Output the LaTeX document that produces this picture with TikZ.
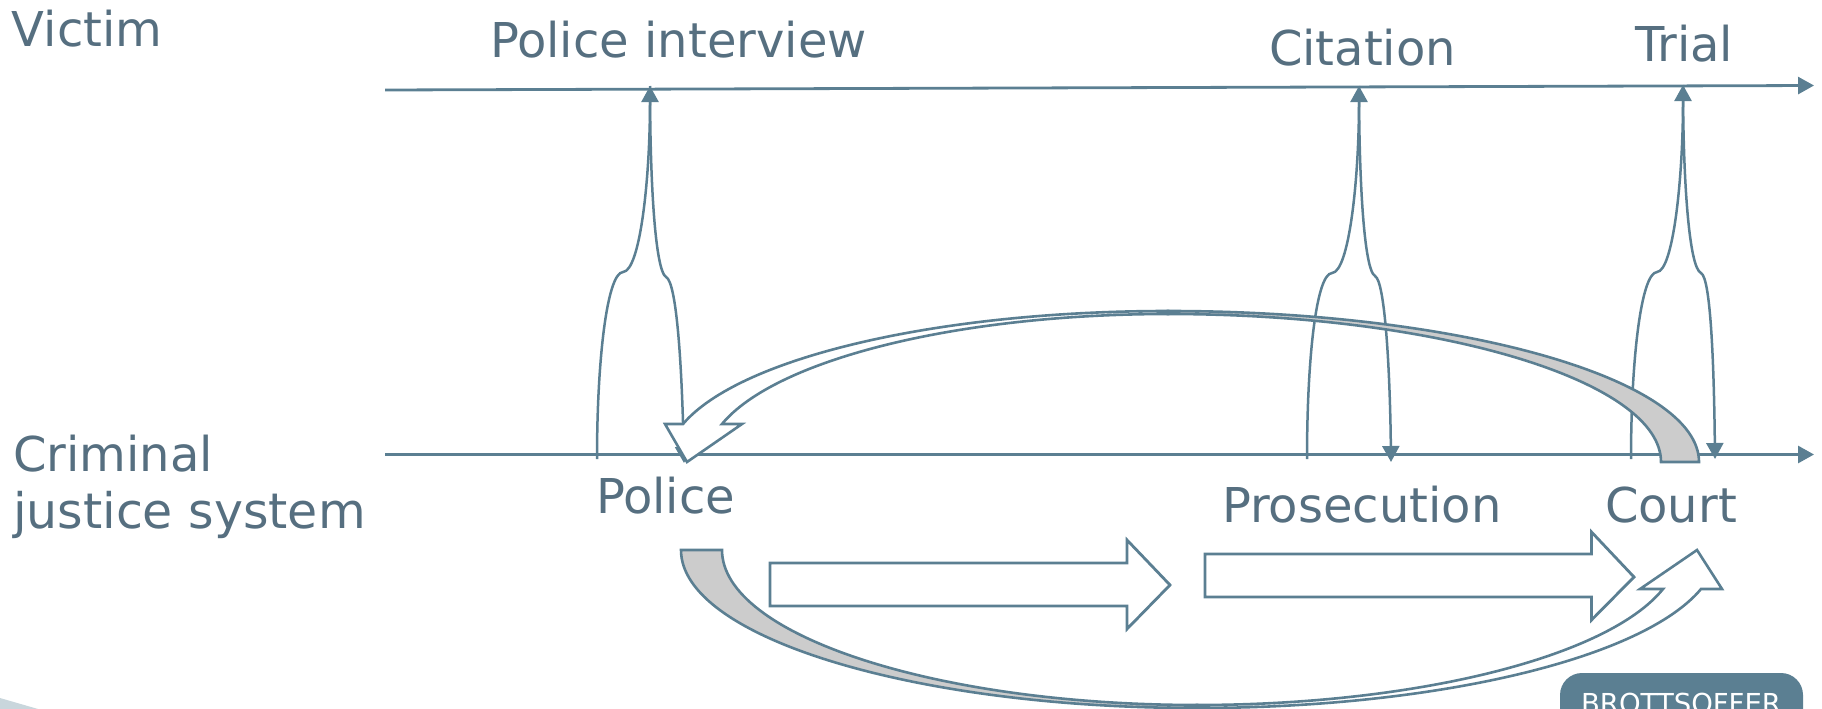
\documentclass[tikz,border=0pt]{standalone}
\usepackage{fontspec}
\setmainfont{DejaVu Sans}
\usetikzlibrary{arrows.meta}
\definecolor{slate}{HTML}{5B7F92}
\definecolor{txt}{HTML}{566F80}
\definecolor{band}{HTML}{CCCCCC}
\definecolor{wedge}{HTML}{C9D6DC}
\tikzset{
  lbl/.style={text=txt,anchor=base west,inner sep=0pt,outer sep=0pt,font=\fontsize{48pt}{57pt}\selectfont},
  axisline/.style={draw=slate,line width=2.8pt,-{Triangle[width=17pt,length=16pt]}},
  feeler/.style={draw=slate,line width=2.5pt,-{Triangle[width=17pt,length=16pt]}},
  blockarrow/.style={draw=slate,line width=2.8pt,fill=white,line join=miter},
  greypart/.style={draw=slate,line width=2.6pt,fill=band,line join=miter},
  whitepart/.style={draw=slate,line width=2.6pt,fill=white,line join=miter},
}
\begin{document}
\begin{tikzpicture}[x=1pt,y=-1pt]
\useasboundingbox (0,0) rectangle (1822,709);
\begin{scope}
\clip (0,0) rectangle (1822,709);
% corner decoration and badge
\fill[wedge] (0,698) -- (38,709) -- (0,709) -- cycle;
\fill[slate,rounded corners=22pt] (1560,673) rectangle (1803,740);
\node[text=white,anchor=base,inner sep=0pt,font=\fontsize{27.5pt}{30pt}\selectfont] (badge) at (1681,713) {BROTTSOFFER};

% axes
\coordinate (topL) at (385,90);
\coordinate (topR) at (1814,85.5);
\coordinate (botL) at (385,454.5);
\coordinate (botR) at (1814,454.5);
\draw[axisline] (topL) -- (topR);
\draw[axisline] (botL) -- (botR);

% text
\node[lbl] (victim) at (12,47) {Victim};
\node[lbl] (interview) at (490,57) {Police interview};
\node[lbl] (citation) at (1269,66) {Citation};
\node[lbl] (trial) at (1635,62) {Trial};
\node[lbl] (crim1) at (13,471) {Criminal};
\node[lbl,font=\fontsize{49pt}{57pt}\selectfont] (crim2) at (13,528) {justice system};
\node[lbl] (police) at (596,513) {Police};
\node[lbl] (prosecution) at (1222,522) {Prosecution};
\node[lbl] (court) at (1605,522) {Court};

% feeler arrows
\coordinate (p0) at (597,459); \coordinate (p1) at (623,272);
\coordinate (p2) at (650,86);  \coordinate (p3) at (666,277);
\coordinate (p4) at (684,463);
\draw[feeler] (p0) .. controls (597,360) and (607,273) .. (p1)
                   .. controls (640,271) and (650,180) .. (p2);
\draw[feeler] (p2) .. controls (650,180) and (655,270) .. (p3)
                   .. controls (677,282) and (682,370) .. (p4);

\coordinate (c0) at (1307,459); \coordinate (c1) at (1332,273);
\coordinate (c2) at (1359,86);  \coordinate (c3) at (1375,276);
\coordinate (c4) at (1391,462);
\draw[feeler] (c0) .. controls (1307,360) and (1316,274) .. (c1)
                   .. controls (1349,272) and (1359,180) .. (c2);
\draw[feeler] (c2) .. controls (1359,180) and (1364,270) .. (c3)
                   .. controls (1385,281) and (1390,370) .. (c4);

\coordinate (t0) at (1631,459); \coordinate (t1) at (1657,272);
\coordinate (t2) at (1683,85);  \coordinate (t3) at (1701,273);
\coordinate (t4) at (1715,459);
\draw[feeler] (t0) .. controls (1631,360) and (1641,273) .. (t1)
                   .. controls (1673,271) and (1683,180) .. (t2);
\draw[feeler] (t2) .. controls (1683,180) and (1689,268) .. (t3)
                   .. controls (1711,278) and (1714,370) .. (t4);

% upper curved arrow
\coordinate (uTopO) at (1168,311); \coordinate (uTopI) at (1168,314);
\draw[greypart] (1699,462) .. controls (1699,379) and (1460,311) .. (uTopO)
   -- (uTopI) .. controls (1439,314) and (1661,381) .. (1661,462) -- cycle;
\draw[whitepart] (uTopO) .. controls (939.4,311) and (740,357) .. (683,424)
   -- (665,424) -- (687,462) -- (742,424) -- (722,424)
   .. controls (775.8,359.2) and (958.6,314) .. (uTopI) -- cycle;

% lower curved arrow
\coordinate (lBotO) at (1197,708); \coordinate (lBotI) at (1197,705);
\draw[greypart] (681,550) .. controls (681,637) and (913,708) .. (lBotO)
   -- (lBotI) .. controls (936,705) and (722,635) .. (722,550) -- cycle;
\draw[whitepart] (lBotO) .. controls (1435,708) and (1642.5,659) .. (1701,589)
   -- (1722,589) -- (1697,550) -- (1640,589) -- (1663,589)
   .. controls (1608,657) and (1416,705) .. (lBotI) -- cycle;

% block arrows
\draw[blockarrow] (770,563) -- (1127,563) -- (1127,540) -- (1170,585) -- (1127,629) -- (1127,606) -- (770,606) -- cycle;
\draw[blockarrow] (1205,554) -- (1591.5,554) -- (1591.5,532) -- (1634,577) -- (1591.5,620) -- (1591.5,597) -- (1205,597) -- cycle;
\end{scope}
\end{tikzpicture}
\end{document}
